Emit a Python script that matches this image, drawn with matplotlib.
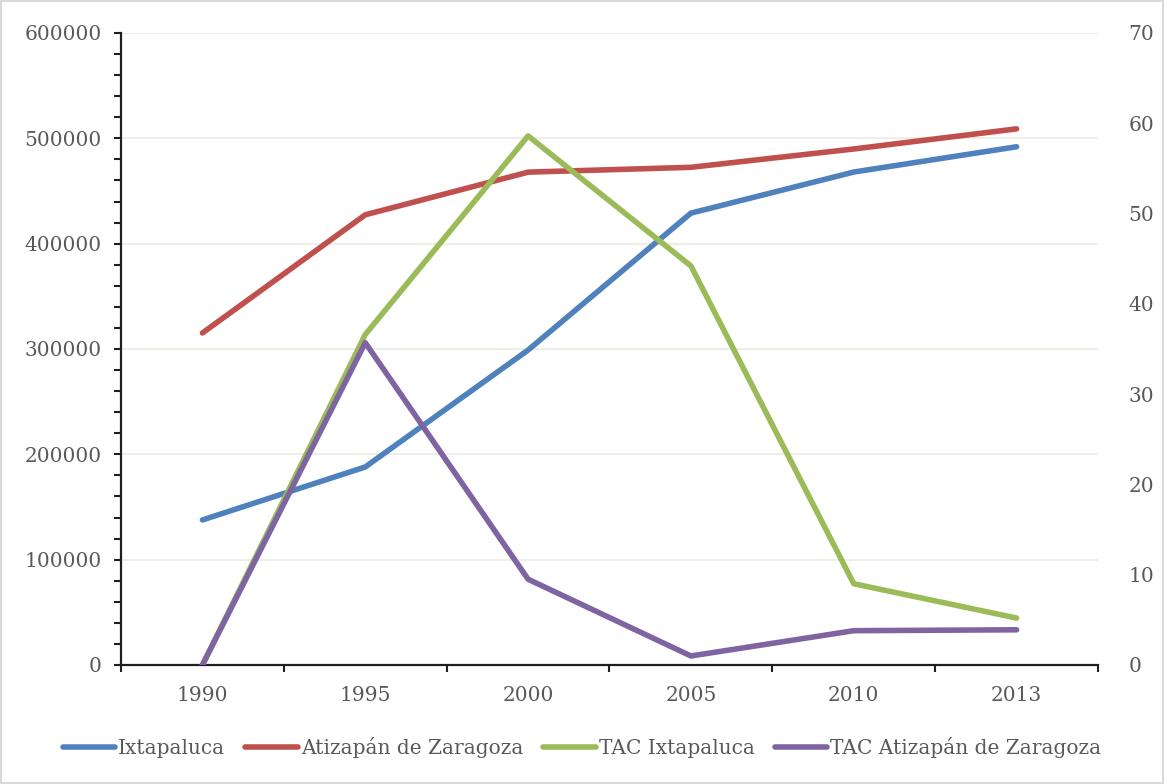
import matplotlib.pyplot as plt
from matplotlib.patches import Rectangle
from matplotlib.ticker import MultipleLocator, FixedLocator

years = ["1990", "1995", "2000", "2005", "2010", "2013"]
ixtapaluca = [137700, 188000, 299000, 429000, 468000, 492000]
atizapan = [315200, 427400, 467900, 472500, 489900, 509000]
tac_ixtapaluca = [0, 36.6, 58.6, 44.2, 9.0, 5.2]
tac_atizapan = [0, 35.7, 9.5, 1.0, 3.8, 3.9]

plt.rcParams["font.family"] = ["DejaVu Serif"]
text_color = "#595959"

fig = plt.figure(figsize=(11.64, 7.84), dpi=100)
fig.subplots_adjust(left=121 / 1164, right=1098 / 1164, top=1 - 33 / 784, bottom=1 - 665 / 784)
fig.patches.append(Rectangle((0.001, 0.001), 0.998, 0.998, transform=fig.transFigure,
                             fill=False, edgecolor="#D9D9D9", linewidth=1.5))

ax = fig.add_subplot(111)
ax2 = ax.twinx()

x = list(range(len(years)))
lw = 4.0
l1, = ax.plot(x, ixtapaluca, color="#4F81BD", lw=lw, solid_capstyle="round", label="Ixtapaluca")
l2, = ax.plot(x, atizapan, color="#C0504D", lw=lw, solid_capstyle="round", label="Atizapán de Zaragoza")
l3, = ax2.plot(x, tac_ixtapaluca, color="#9BBB59", lw=lw, solid_capstyle="round", label="TAC Ixtapaluca")
l4, = ax2.plot(x, tac_atizapan, color="#8064A2", lw=lw, solid_capstyle="round", label="TAC Atizapán de Zaragoza")

ax.set_xlim(-0.5, len(years) - 0.5)
ax.set_ylim(0, 600000)
ax2.set_ylim(0, 70)

ax.yaxis.set_major_locator(MultipleLocator(100000))
ax.yaxis.set_minor_locator(MultipleLocator(20000))
ax2.yaxis.set_major_locator(MultipleLocator(10))
ax.yaxis.set_major_formatter(lambda v, p: f"{int(v)}")

ax.set_xticks(x)
ax.set_xticklabels(years)
ax.xaxis.set_minor_locator(FixedLocator([i - 0.5 for i in range(len(years) + 1)]))

ax.grid(axis="y", which="major", color="#ECEBE2", lw=1.2)
ax.set_axisbelow(True)

for s in ["top", "right"]:
    ax.spines[s].set_visible(False)
for s in ["top", "right", "left", "bottom"]:
    ax2.spines[s].set_visible(False)
for s in ["left", "bottom"]:
    ax.spines[s].set_linewidth(1.6)
    ax.spines[s].set_color("#1F1F1F")

ax.tick_params(axis="y", which="both", direction="out", length=5, width=1.5, color="#1F1F1F",
               labelsize=14.5, labelcolor=text_color, pad=9)
ax.tick_params(axis="x", which="major", length=0, labelsize=14.5, labelcolor=text_color, pad=15)
ax.tick_params(axis="x", which="minor", direction="out", length=5, width=1.5, color="#1F1F1F")
ax2.tick_params(axis="y", length=0, labelsize=14.5, labelcolor=text_color, pad=22)

fig.legend(handles=[l1, l2, l3, l4], loc="center", bbox_to_anchor=(0.5, 1 - 748 / 784),
           ncol=4, frameon=False, fontsize=14.5, labelcolor=text_color,
           handlelength=2.6, handletextpad=0.15, columnspacing=1.0)

fig.savefig("out.png", dpi=100)
